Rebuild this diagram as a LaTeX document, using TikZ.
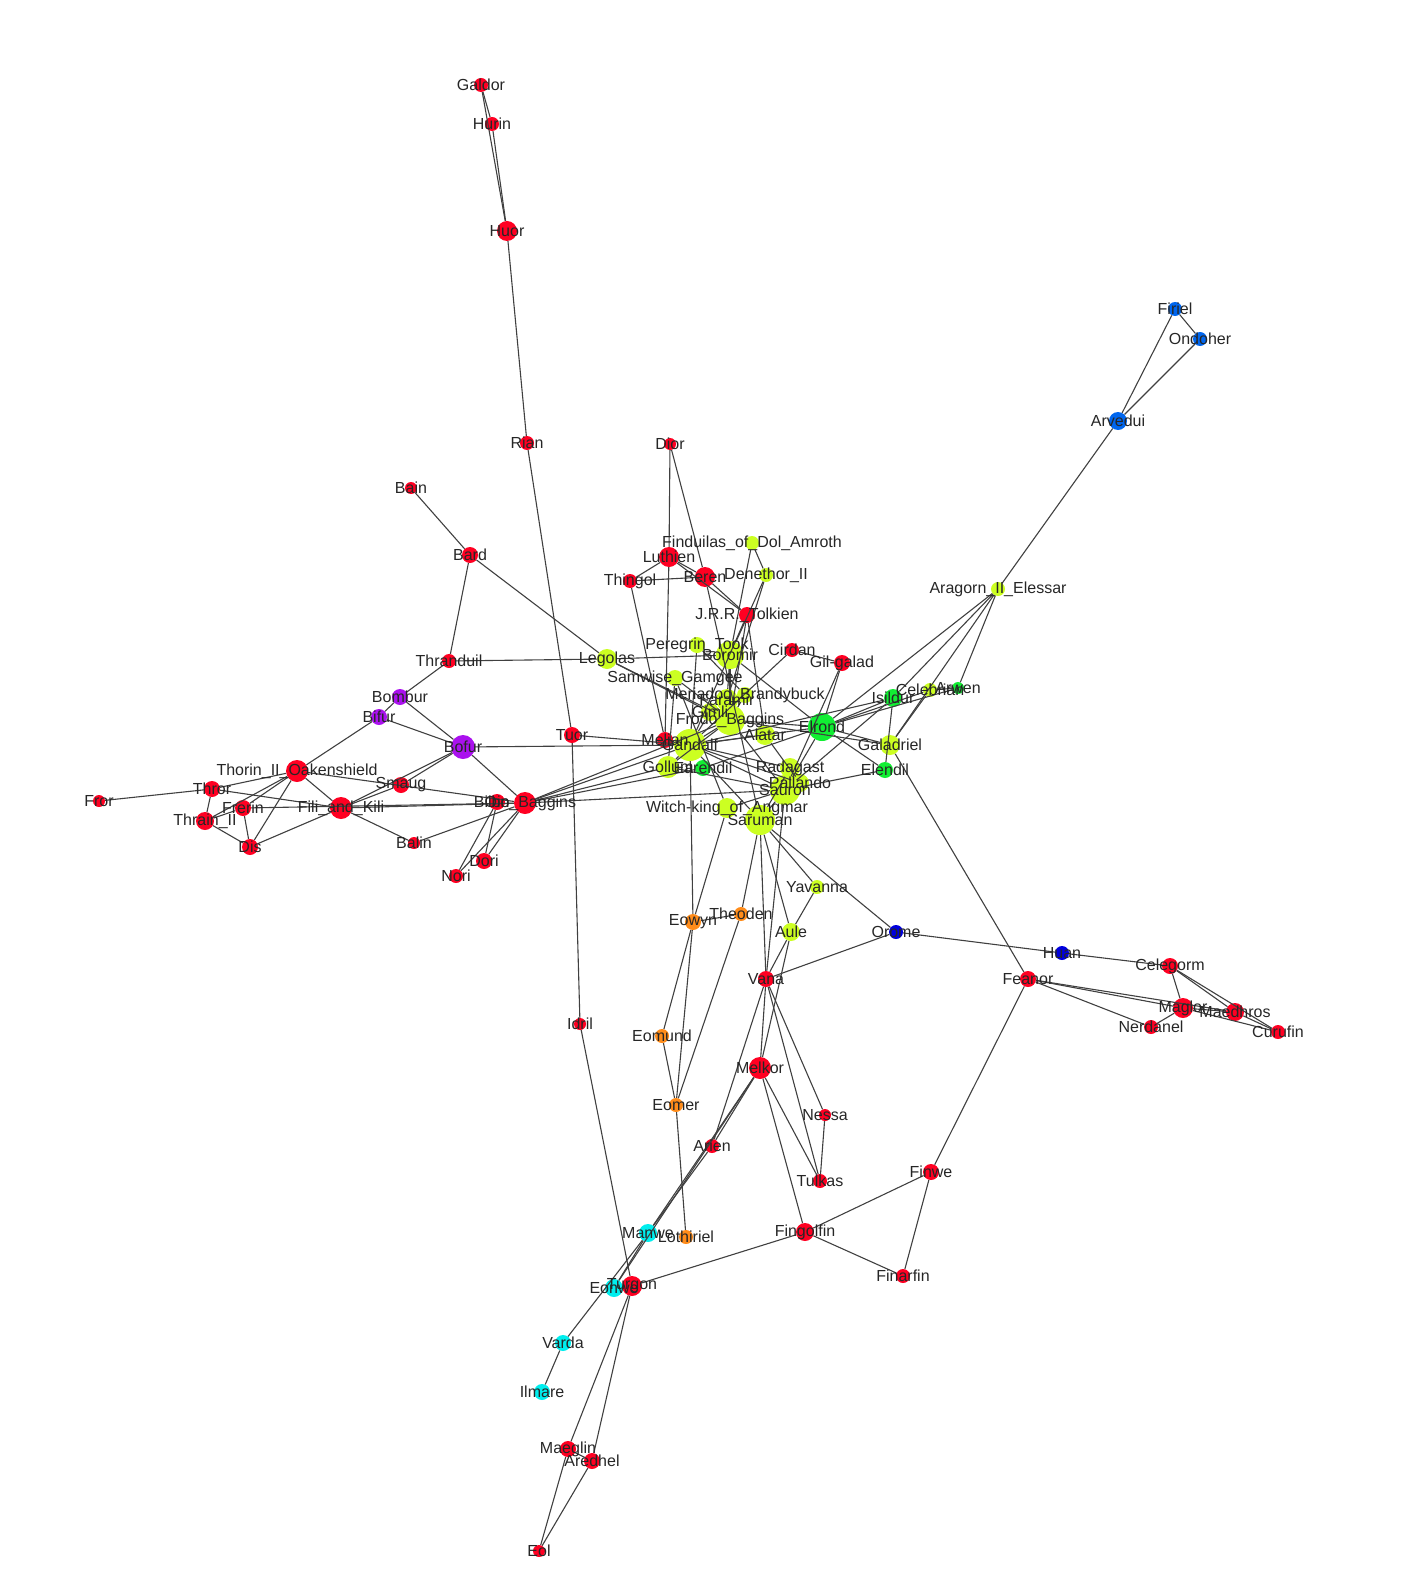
\documentclass[tikz,border=0pt]{standalone}
\usepackage{fontspec}
\setmainfont{Liberation Sans}
\definecolor{cR}{HTML}{FF0022}
\definecolor{cY}{HTML}{CCFF22}
\definecolor{cG}{HTML}{11EE33}
\definecolor{cO}{HTML}{FF8C1A}
\definecolor{cC}{HTML}{00EEEE}
\definecolor{cP}{HTML}{AA11EE}
\definecolor{cB}{HTML}{0066EE}
\definecolor{cD}{HTML}{0000DD}
\begin{document}
\begin{tikzpicture}[x=1pt,y=-1pt,
  nd/.style={circle,inner sep=0pt,minimum size=#1},
  nd/.default=14pt,
  lb/.style={font=\fontsize{16}{16}\selectfont,text=black!85},
  ed/.style={draw=black!75,line width=1.1pt}]
\useasboundingbox (0,0) rectangle (1400,1594);
\def\N#1#2#3#4#5#6{\node[nd=#5,fill=#4] (#1) at (#2,#3) {};}
% name x y color size
\foreach \n/\x/\y/\c/\s in {
Galdor/481/85/cR/14pt, Hurin/492/124/cR/14pt, Huor/507/231/cR/20pt, Rian/527/443/cR/14pt,
Bain/411/488/cR/12pt, Bard/470/555/cR/16pt, Dior/670/444/cR/12pt, Luthien/669/557/cR/20pt,
Beren/705/577/cR/20pt, Thingol/630/581/cR/14pt, Tolkien/747/615/cR/16pt, Cirdan/792/650/cR/14pt,
Gilgalad/842/663/cR/16pt, Thranduil/449/661/cR/14pt, Tuor/572/735/cR/16pt, Melian/665/740/cR/16pt,
Thorin/297/771/cR/22pt, Thror/212/789/cR/16pt, Fror/99/801/cR/12pt, Frerin/243/808/cR/16pt,
Thrain/205/821/cR/18pt, Dis/250/847/cR/16pt, Fili/341/808/cR/22pt, Smaug/401/785/cR/16pt,
Balin/414/843/cR/12pt, Oin/497/802/cR/16pt, Bilbo/525/803/cR/22pt, Dori/484/861/cR/16pt,
Nori/456/876/cR/14pt, Idril/580/1024/cR/12pt, Melkor/760/1068/cR/22pt, Vana/766/979/cR/16pt,
Nessa/825/1115/cR/12pt, Tulkas/820/1181/cR/14pt, Arien/712/1146/cR/14pt, Fingolfin/805/1232/cR/18pt,
Finwe/931/1172/cR/16pt, Finarfin/903/1276/cR/14pt, Turgon/632/1286/cR/20pt, Maeglin/568/1449/cR/16pt,
Aredhel/592/1461/cR/16pt, Eol/539/1551/cR/12pt, Feanor/1028/979/cR/16pt, Celegorm/1170/966/cR/16pt,
Maglor/1183/1008/cR/20pt, Maedhros/1235/1012/cR/18pt, Nerdanel/1151/1027/cR/14pt, Curufin/1278/1032/cR/14pt,
Finiel/1175/309/cB/14pt, Ondoher/1200/339/cB/14pt, Arvedui/1118/421/cB/18pt,
Huan/1062/953/cD/14pt, Orome/896/932/cD/14pt,
Findulias/752/543/cY/14pt, Denethor/766/575/cY/14pt, Aragorn/998/589/cY/14pt, Peregrin/697/645/cY/16pt,
Boromir/730/655/cY/28pt, Legolas/607/659/cY/20pt, Samwise/675/678/cY/16pt, Meriadoc/745/695/cY/16pt,
Faramir/727/700/cY/22pt, Gimli/710/712/cY/18pt, Frodo/730/720/cY/30pt, Alatar/765/735/cY/20pt,
Gandalf/690/745/cY/32pt, Gollum/668/767/cY/22pt, Radagast/790/768/cY/20pt, Pallando/800/783/cY/18pt,
Sauron/785/790/cY/30pt, Witchking/727/808/cY/20pt, Saruman/760/820/cY/30pt, Yavanna/817/887/cY/14pt,
Aule/791/932/cY/18pt, Celebrian/930/690/cY/14pt, Galadriel/890/745/cY/20pt,
Elrond/822/727/cG/28pt, Isildur/893/698/cG/18pt, Arwen/958/688/cG/12pt, Earendil/703/768/cG/16pt, Elendil/885/770/cG/16pt,
Eowyn/693/922/cO/16pt, Theoden/741/914/cO/14pt, Eomund/662/1036/cO/14pt, Eomer/676/1105/cO/14pt, Lothiriel/686/1237/cO/14pt,
Manwe/648/1233/cC/18pt, Eonwe/614/1288/cC/18pt, Varda/563/1343/cC/16pt, Ilmare/542/1392/cC/16pt,
Bombur/400/697/cP/16pt, Bifur/379/717/cP/16pt, Bofur/463/747/cP/24pt}
{\node[nd=\s,fill=\c] (\n) at (\x,\y) {};}
% edges
\begin{scope}[on background layer/.try]
\end{scope}
\foreach \a/\b in {Galdor/Hurin,Galdor/Huor,Hurin/Huor,Huor/Rian,Rian/Tuor,Tuor/Idril,Idril/Turgon,Tuor/Gandalf,
Bain/Bard,Bard/Thranduil,Bard/Legolas,Legolas/Frodo,Thranduil/Legolas,Thranduil/Bombur,Bombur/Bifur,Bombur/Bofur,Bifur/Bofur,
Bifur/Thorin,Bofur/Bilbo,Bofur/Smaug,Bofur/Fili,Bofur/Gandalf,Thorin/Thror,Thorin/Frerin,Thorin/Thrain,Thorin/Dis,Thorin/Fili,
Thorin/Bilbo,Fror/Thror,Thror/Thrain,Thror/Fili,Frerin/Thrain,Frerin/Dis,Thrain/Dis,Frerin/Bilbo,Dis/Fili,Fili/Balin,Fili/Smaug,
Fili/Bilbo,Balin/Bilbo,Oin/Dori,Oin/Nori,Bilbo/Dori,Bilbo/Nori,Bilbo/Gandalf,Bilbo/Gollum,Bilbo/Frodo,Bilbo/Sauron,Bilbo/Earendil,
Dior/Luthien,Dior/Beren,Luthien/Beren,Luthien/Thingol,Thingol/Beren,Thingol/Melian,Luthien/Melian,Beren/Tolkien,Luthien/Tolkien,
Beren/Saruman,Findulias/Denethor,Findulias/Boromir,Denethor/Boromir,Denethor/Faramir,Tolkien/Frodo,Tolkien/Gandalf,Tolkien/Alatar,
Cirdan/Gilgalad,Cirdan/Gandalf,Gilgalad/Elrond,Gilgalad/Sauron,Legolas/Gimli,Legolas/Boromir,Samwise/Frodo,Samwise/Gollum,
Samwise/Witchking,Peregrin/Meriadoc,Peregrin/Gandalf,Boromir/Faramir,Boromir/Frodo,Boromir/Elrond,Aragorn/Elrond,Aragorn/Arwen,
Aragorn/Arvedui,Arvedui/Finiel,Arvedui/Ondoher,Finiel/Ondoher,Aragorn/Galadriel,Aragorn/Isildur,Elrond/Isildur,Elrond/Celebrian,
Elrond/Arwen,Elrond/Galadriel,Elrond/Elendil,Elrond/Frodo,Elrond/Gandalf,Elrond/Earendil,Elrond/Sauron,Isildur/Elendil,
Isildur/Sauron,Isildur/Gandalf,Celebrian/Galadriel,Celebrian/Arwen,Galadriel/Feanor,Galadriel/Frodo,Elendil/Sauron,
Gandalf/Frodo,Gandalf/Saruman,Gandalf/Radagast,Gandalf/Alatar,Gandalf/Pallando,Gandalf/Sauron,Gandalf/Melian,Gandalf/Gollum,
Gandalf/Eowyn,Gandalf/Gimli,Saruman/Radagast,Saruman/Sauron,Saruman/Theoden,Saruman/Orome,Saruman/Yavanna,Saruman/Aule,
Witchking/Eowyn,Witchking/Sauron,Sauron/Vana,Frodo/Sauron,Frodo/Gollum,Gollum/Sauron,Meriadoc/Frodo,Alatar/Pallando,
Radagast/Pallando,Yavanna/Aule,Aule/Melkor,Orome/Vana,Orome/Huan,Huan/Celegorm,Celegorm/Maglor,Celegorm/Maedhros,
Celegorm/Curufin,Feanor/Maglor,Feanor/Maedhros,Feanor/Nerdanel,Feanor/Finwe,Maglor/Maedhros,Maglor/Nerdanel,
Maedhros/Curufin,Maglor/Curufin,Finwe/Finarfin,Finwe/Fingolfin,Fingolfin/Finarfin,Fingolfin/Turgon,Fingolfin/Melkor,
Melkor/Vana,Melkor/Arien,Melkor/Manwe,Melkor/Tulkas,Vana/Nessa,Nessa/Tulkas,Vana/Tulkas,Vana/Aule,Vana/Saruman,
Eowyn/Theoden,Eowyn/Eomund,Eowyn/Eomer,Eomund/Eomer,Eomer/Lothiriel,Theoden/Eomer,Arien/Manwe,Manwe/Varda,Eonwe/Manwe,
Varda/Ilmare,Melkor/Eonwe,Turgon/Maeglin,Turgon/Aredhel,Turgon/Eonwe,Maeglin/Aredhel,Maeglin/Eol,Aredhel/Eol,Vana/Arien}
{\draw[ed] (\a) -- (\b);}
% redraw nodes on top
\foreach \n/\c in {Galdor/cR,Hurin/cR,Huor/cR,Rian/cR,Bain/cR,Bard/cR,Dior/cR,Luthien/cR,Beren/cR,Thingol/cR,Tolkien/cR,
Cirdan/cR,Gilgalad/cR,Thranduil/cR,Tuor/cR,Melian/cR,Thorin/cR,Thror/cR,Fror/cR,Frerin/cR,Thrain/cR,Dis/cR,Fili/cR,Smaug/cR,
Balin/cR,Oin/cR,Bilbo/cR,Dori/cR,Nori/cR,Idril/cR,Melkor/cR,Vana/cR,Nessa/cR,Tulkas/cR,Arien/cR,Fingolfin/cR,Finwe/cR,
Finarfin/cR,Turgon/cR,Maeglin/cR,Aredhel/cR,Eol/cR,Feanor/cR,Celegorm/cR,Maglor/cR,Maedhros/cR,Nerdanel/cR,Curufin/cR,
Finiel/cB,Ondoher/cB,Arvedui/cB,Huan/cD,Orome/cD,Findulias/cY,Denethor/cY,Aragorn/cY,Peregrin/cY,Boromir/cY,Legolas/cY,
Samwise/cY,Meriadoc/cY,Faramir/cY,Gimli/cY,Frodo/cY,Alatar/cY,Gandalf/cY,Gollum/cY,Radagast/cY,Pallando/cY,Sauron/cY,
Witchking/cY,Saruman/cY,Yavanna/cY,Aule/cY,Celebrian/cY,Galadriel/cY,Elrond/cG,Isildur/cG,Arwen/cG,Earendil/cG,Elendil/cG,
Eowyn/cO,Theoden/cO,Eomund/cO,Eomer/cO,Lothiriel/cO,Manwe/cC,Eonwe/cC,Varda/cC,Ilmare/cC,Bombur/cP,Bifur/cP,Bofur/cP}
{\fill[\c] (\n.center) circle[radius=0.5*\pgfkeysvalueof{/pgf/minimum width}];}
\foreach \n/\t in {Galdor/Galdor,Hurin/Hurin,Huor/Huor,Rian/Rian,Bain/Bain,Bard/Bard,Dior/Dior,Luthien/Luthien,Beren/Beren,
Thingol/Thingol,Tolkien/J.R.R.\_Tolkien,Cirdan/Cirdan,Gilgalad/Gil-galad,Thranduil/Thranduil,Tuor/Tuor,Melian/Melian,
Thorin/Thorin\_II\_Oakenshield,Thror/Thror,Fror/Fror,Frerin/Frerin,Thrain/Thrain\_II,Dis/Dis,Fili/Fili\_and\_Kili,Smaug/Smaug,
Balin/Balin,Oin/Oin,Bilbo/Bilbo\_Baggins,Dori/Dori,Nori/Nori,Idril/Idril,Melkor/Melkor,Vana/Vana,Nessa/Nessa,Tulkas/Tulkas,
Arien/Arien,Fingolfin/Fingolfin,Finwe/Finwe,Finarfin/Finarfin,Turgon/Turgon,Maeglin/Maeglin,Aredhel/Aredhel,Eol/Eol,
Feanor/Feanor,Celegorm/Celegorm,Maglor/Maglor,Maedhros/Maedhros,Nerdanel/Nerdanel,Curufin/Curufin,Finiel/Firiel,
Ondoher/Ondoher,Arvedui/Arvedui,Huan/Huan,Orome/Orome,Findulias/Finduilas\_of\_Dol\_Amroth,Denethor/Denethor\_II,
Aragorn/Aragorn\_II\_Elessar,Peregrin/Peregrin\_Took,Boromir/Boromir,Legolas/Legolas,Samwise/Samwise\_Gamgee,
Meriadoc/Meriadoc\_Brandybuck,Faramir/Faramir,Gimli/Gimli,Frodo/Frodo\_Baggins,Alatar/Alatar,Gandalf/Gandalf,Gollum/Gollum,
Radagast/Radagast,Pallando/Pallando,Sauron/Sauron,Witchking/Witch-king\_of\_Angmar,Saruman/Saruman,Yavanna/Yavanna,Aule/Aule,
Celebrian/Celebrian,Galadriel/Galadriel,Elrond/Elrond,Isildur/Isildur,Arwen/Arwen,Earendil/Earendil,Elendil/Elendil,
Eowyn/Eowyn,Theoden/Theoden,Eomund/Eomund,Eomer/Eomer,Lothiriel/Lothiriel,Manwe/Manwe,Eonwe/Eonwe,Varda/Varda,Ilmare/Ilmare,
Bombur/Bombur,Bifur/Bifur,Bofur/Bofur}
{\node[lb] (l\n) at (\n.center) {\t};}
\end{tikzpicture}
\end{document}
